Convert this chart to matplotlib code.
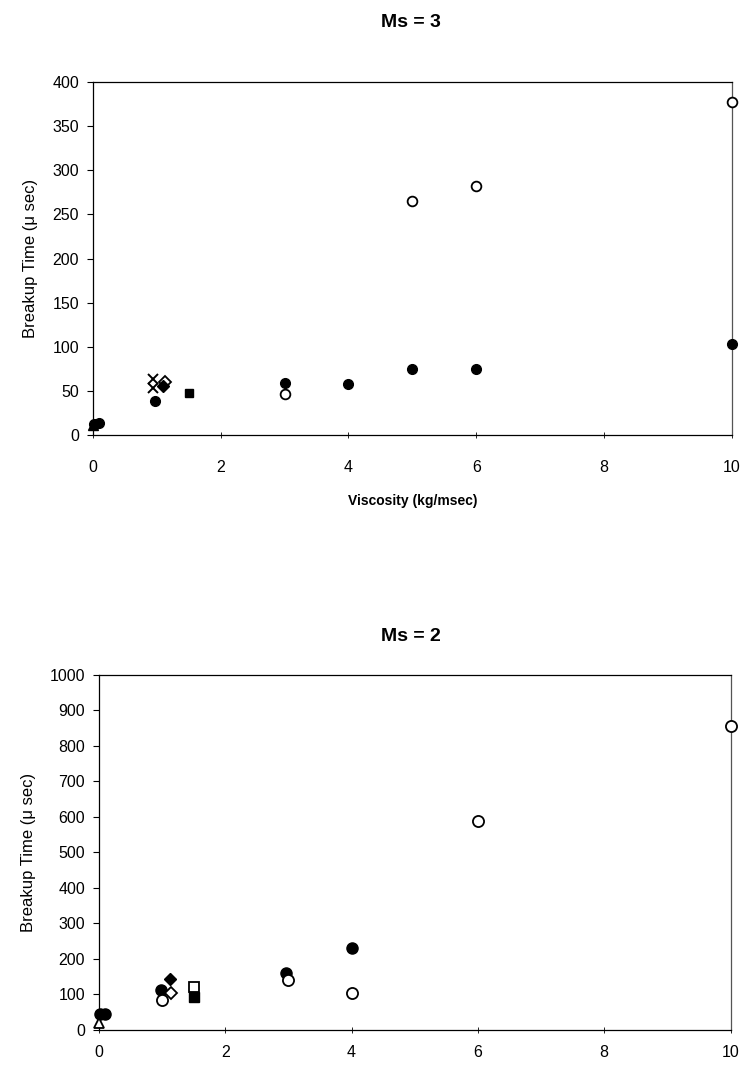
import matplotlib.pyplot as plt

# Ms = 3 data (viscosity kg/msec, breakup time micro sec)
top_fill_circ_x = [0.02, 0.1, 0.97, 3, 4, 5, 6, 10]
top_fill_circ_y = [12, 14, 39, 59, 58, 75, 75, 103]
top_open_circ_x = [3, 5, 6, 10]
top_open_circ_y = [46, 265, 282, 377]
top_cross_x = [0.94, 0.94]
top_cross_y = [64, 53]
top_open_diam_x = [1.13]
top_open_diam_y = [60]
top_fill_diam_x = [1.1]
top_fill_diam_y = [55]
top_fill_sq_x = [1.5]
top_fill_sq_y = [48]
top_fill_tri_x = [0.0]
top_fill_tri_y = [11]

# Ms = 2 data
bot_fill_circ_x = [0.02, 0.1, 0.98, 2.96, 4]
bot_fill_circ_y = [44, 46, 112, 160, 230]
bot_open_circ_x = [1.0, 3, 4, 6, 10]
bot_open_circ_y = [85, 140, 105, 590, 855]
bot_fill_diam_x = [1.12]
bot_fill_diam_y = [143]
bot_open_diam_x = [1.14]
bot_open_diam_y = [103]
bot_open_sq_x = [1.5]
bot_open_sq_y = [122]
bot_fill_sq_x = [1.5]
bot_fill_sq_y = [92]
bot_open_tri_x = [0.0]
bot_open_tri_y = [20]

plt.rcParams['font.family'] = ['Liberation Sans', 'DejaVu Sans']

fig = plt.figure(figsize=(7.43, 10.67), dpi=100)
ax1 = fig.add_axes([0.125, 0.5923, 0.8600, 0.3308])
ax2 = fig.add_axes([0.1332, 0.0347, 0.8500, 0.3327])

ms = 7
kw = dict(linestyle='none', clip_on=False, zorder=3)


def opn(ax, x, y, m, size=ms):
    ax.plot(x, y, marker=m, markersize=size, markerfacecolor='white',
            markeredgecolor='black', markeredgewidth=1.3, **kw)


def fil(ax, x, y, m, size=ms):
    ax.plot(x, y, marker=m, markersize=size, color='black', **kw)


fil(ax1, top_fill_circ_x, top_fill_circ_y, 'o')
opn(ax1, top_open_circ_x, top_open_circ_y, 'o')
ax1.plot(top_cross_x, top_cross_y, marker='x', markersize=7, color='black',
         markeredgewidth=1.4, **kw)
opn(ax1, top_open_diam_x, top_open_diam_y, 'D', 6)
fil(ax1, top_fill_diam_x, top_fill_diam_y, 'D', 6)
fil(ax1, top_fill_sq_x, top_fill_sq_y, 's', 6)
fil(ax1, top_fill_tri_x, top_fill_tri_y, '^')

fil(ax2, bot_fill_circ_x, bot_fill_circ_y, 'o', 8)
opn(ax2, bot_open_circ_x, bot_open_circ_y, 'o', 8)
fil(ax2, bot_fill_diam_x, bot_fill_diam_y, 'D', 6)
opn(ax2, bot_open_diam_x, bot_open_diam_y, 'D', 6)
opn(ax2, bot_open_sq_x, bot_open_sq_y, 's', 7)
fil(ax2, bot_fill_sq_x, bot_fill_sq_y, 's', 7)
opn(ax2, bot_open_tri_x, bot_open_tri_y, '^', 7)

ax1.set_xlim(0, 10)
ax1.set_ylim(0, 400)
ax1.set_yticks(range(0, 401, 50))
ax2.set_xlim(0, 10)
ax2.set_ylim(0, 1000)
ax2.set_yticks(range(0, 1001, 100))

for ax in (ax1, ax2):
    ax.set_xticks(range(0, 11, 2))
    for s in ax.spines.values():
        s.set_linewidth(0.9)
    ax.spines['right'].set_linestyle((0, (2, 1)))
    ax.spines['right'].set_color('#555555')
    ax.tick_params(axis='y', direction='out', length=4, width=0.8,
                   labelsize=11.5, pad=6)
    ax.set_ylabel('Breakup Time (\u03bc sec)', fontsize=12, labelpad=10)

ax1.tick_params(axis='x', direction='inout', length=4, width=0.6,
                labelsize=11.5, pad=16)
ax2.tick_params(axis='x', direction='inout', length=4, width=0.6,
                labelsize=11.5, pad=9)

ax1.set_xlabel('Viscosity (kg/msec)', fontsize=10, fontweight='bold',
               labelpad=14)

fig.text(0.553, 0.979, 'Ms = 3', ha='center', va='center', fontsize=14,
         fontweight='bold')
fig.text(0.553, 0.403, 'Ms = 2', ha='center', va='center', fontsize=14,
         fontweight='bold')

fig.savefig('out.png', dpi=100)
